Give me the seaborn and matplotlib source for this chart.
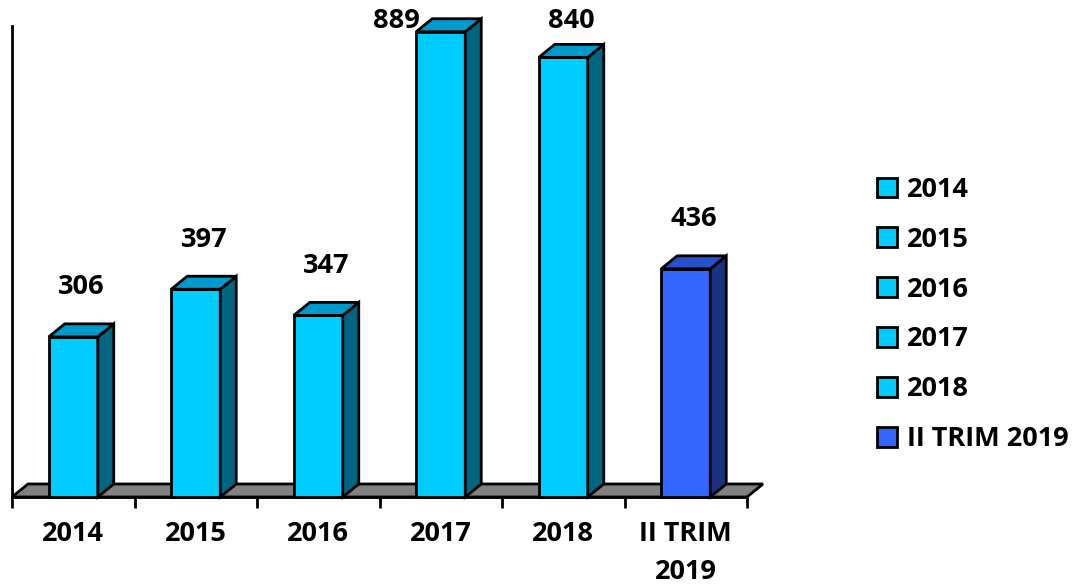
import matplotlib
matplotlib.use("Agg")
import matplotlib.pyplot as plt
from matplotlib.patches import Polygon, Patch
from matplotlib.ticker import FixedLocator
import seaborn as sns
import pandas as pd

categories = ["2014", "2015", "2016", "2017", "2018", "II TRIM 2019"]
tick_labels = ["2014", "2015", "2016", "2017", "2018", "II TRIM\n2019"]
values = [306, 397, 347, 889, 840, 436]
front_colors = ["#00CCFF"] * 5 + ["#3366FF"]
side_colors = ["#006680"] * 5 + ["#1A3380"]
top_colors = ["#0099CC"] * 5 + ["#2850CC"]

sns.set_theme(style="white")
plt.rcParams["font.family"] = ["Open Sans", "DejaVu Sans"]
plt.rcParams["font.weight"] = "bold"
plt.rcParams["text.color"] = "black"
plt.rcParams["xtick.labelcolor"] = "black"
plt.rcParams["legend.labelcolor"] = "black"
FS = 19.5

fig = plt.figure(figsize=(10.77, 5.88), dpi=100)
ax = fig.add_axes([12 / 1077, 1 - 497 / 588, 735 / 1077, 471 / 588])

df = pd.DataFrame({"cat": categories, "val": values})
sns.barplot(data=df, x="cat", y="val", hue="cat", palette=front_colors,
            saturation=1, width=0.4, edgecolor="black", linewidth=2,
            legend=False, ax=ax, zorder=3)

ax.set_xlim(-0.5, 5.5)
ax.set_ylim(0, 900)

# depth offsets (in data units)
dx = 16 / 122.5
dy = 13 / 0.523

bars = list(ax.patches)

# floor
floor = Polygon([(-0.5, 0), (5.5, 0), (5.5 + dx, dy), (-0.5 + dx, dy)],
                closed=True, facecolor="#808080", edgecolor="black",
                linewidth=2, clip_on=False, zorder=1)
ax.add_patch(floor)

# 3D sides and tops
for i, p in enumerate(bars):
    x0 = p.get_x()
    x1 = x0 + p.get_width()
    h = p.get_height()
    p.set_zorder(4 + i * 3)
    p.set_clip_on(False)
    side = Polygon([(x1, 0), (x1 + dx, dy), (x1 + dx, h + dy), (x1, h)],
                   closed=True, facecolor=side_colors[i], edgecolor="black",
                   linewidth=2, clip_on=False, zorder=4 + i * 3 + 1)
    top = Polygon([(x0, h), (x1, h), (x1 + dx, h + dy), (x0 + dx, h + dy)],
                  closed=True, facecolor=top_colors[i], edgecolor="black",
                  linewidth=2, clip_on=False, zorder=4 + i * 3 + 1)
    ax.add_patch(side)
    ax.add_patch(top)
    ly = h + 95
    if ly > 910:
        ly = 910
    if h > 870:
        ax.text(x0 + 0.03, ly, str(values[i]), ha="right", va="center",
                fontsize=FS, fontweight="bold", color="black", clip_on=False,
                zorder=30)
    else:
        ax.text(i + dx / 2, ly, str(values[i]), ha="center", va="center",
                fontsize=FS, fontweight="bold", color="black", clip_on=False,
                zorder=30)

# axes styling
for s in ["top", "right"]:
    ax.spines[s].set_visible(False)
ax.spines["left"].set_linewidth(2)
ax.spines["left"].set_color("black")
ax.spines["bottom"].set_linewidth(2)
ax.spines["bottom"].set_color("black")
ax.set_xlabel("")
ax.set_ylabel("")
ax.set_yticks([])
ax.set_xticks(range(len(categories)))
ax.set_xticklabels(tick_labels, fontsize=FS, fontweight="bold", linespacing=1.6,
                   va="top", color="black")
ax.tick_params(axis="x", which="major", length=0, pad=17)
ax.xaxis.set_minor_locator(FixedLocator([i - 0.5 for i in range(len(categories) + 1)]))
ax.tick_params(axis="x", which="minor", length=8, width=2, color="black",
               direction="out", bottom=True)

handles = [Patch(facecolor=front_colors[i], edgecolor="black", linewidth=2)
           for i in range(len(categories))]
fig.legend(handles, categories, loc="upper left",
           bbox_to_anchor=(877 / 1077, 1 - 177 / 588), frameon=False,
           prop={"size": FS, "weight": "bold"}, labelspacing=0.88,
           handlelength=0.75, handleheight=0.75, handletextpad=0.35,
           borderaxespad=0, borderpad=0, labelcolor="black")

fig.savefig("out.png", dpi=100, facecolor="white")
